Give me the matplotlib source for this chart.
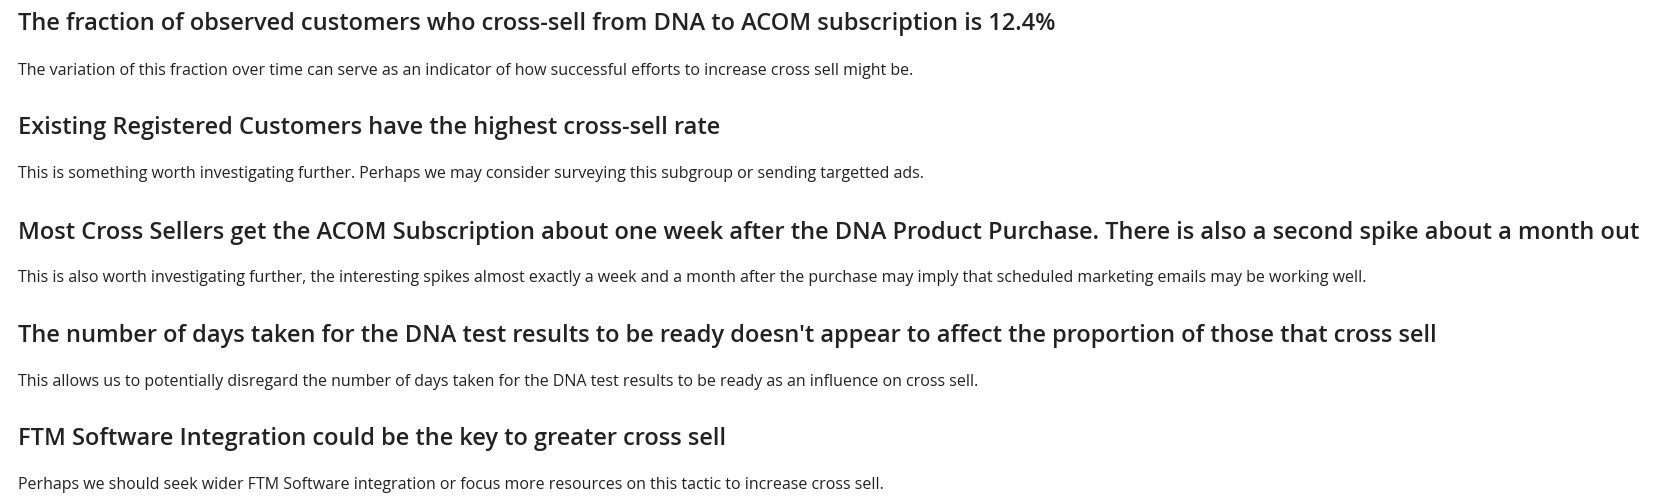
import matplotlib
matplotlib.use("Agg")
import matplotlib.pyplot as plt

headings = [
    "The fraction of observed customers who cross-sell from DNA to ACOM subscription is 12.4%",
    "Existing Registered Customers have the highest cross-sell rate",
    "Most Cross Sellers get the ACOM Subscription about one week after the DNA Product Purchase. There is also a second spike about a month out",
    "The number of days taken for the DNA test results to be ready doesn't appear to affect the proportion of those that cross sell",
    "FTM Software Integration could be the key to greater cross sell",
]
bodies = [
    "The variation of this fraction over time can serve as an indicator of how successful efforts to increase cross sell might be.",
    "This is something worth investigating further. Perhaps we may consider surveying this subgroup or sending targetted ads.",
    "This is also worth investigating further, the interesting spikes almost exactly a week and a month after the purchase may imply that scheduled marketing emails may be working well.",
    "This allows us to potentially disregard the number of days taken for the DNA test results to be ready as an influence on cross sell.",
    "Perhaps we should seek wider FTM Software integration or focus more resources on this tactic to increase cross sell.",
]
head_y = [0.047, 0.253, 0.462, 0.666, 0.872]
body_y = [0.140, 0.345, 0.551, 0.757, 0.962]

fig = plt.figure(figsize=(16.76, 5.04), dpi=100)
for h, y in zip(headings, head_y):
    fig.text(0.0105, 1 - y, h, fontsize=17, fontfamily="Open Sans", color="#222222",
             va="center", ha="left", fontweight="semibold")
for b, y in zip(bodies, body_y):
    fig.text(0.0105, 1 - y, b, fontsize=11.5, fontfamily="Open Sans", color="#222222",
             va="center", ha="left")
fig.savefig("out.png", dpi=100, facecolor="white")
